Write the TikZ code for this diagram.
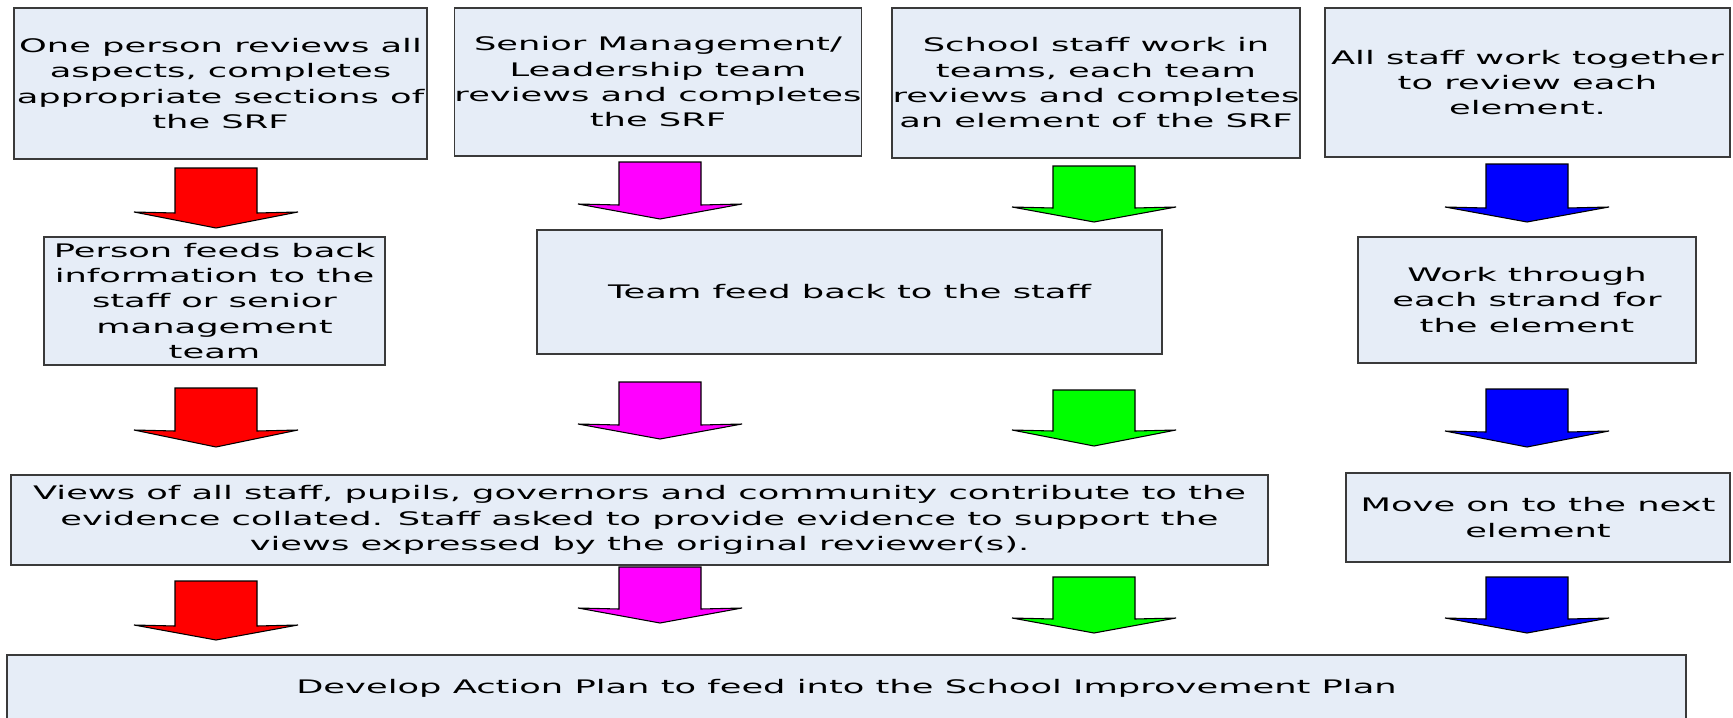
\documentclass[tikz,border=0pt]{standalone}
\usepackage{fontspec}
\setmainfont{DejaVu Sans}[FakeStretch=1.89]
\definecolor{boxfill}{HTML}{E6EDF7}
\definecolor{boxline}{HTML}{3A3A3A}
\definecolor{arrred}{RGB}{255,0,0}
\definecolor{arrmag}{RGB}{255,0,255}
\definecolor{arrgreen}{RGB}{0,255,0}
\definecolor{arrblue}{RGB}{0,0,255}
\newcommand{\blkarrow}[5]{%
  \draw[line width=0.8pt, black, fill=#5, line join=miter]
    (#1-41,#2) -- (#1+41,#2) -- (#1+41,#3) -- (#1+82,#3-1) -- (#1,#4)
    -- (#1-82,#3-1) -- (#1-41,#3) -- cycle;}
\tikzset{
  flowbox/.style 2 args={draw=boxline, line width=1pt, fill=boxfill, rectangle,
    inner sep=0pt, align=center, text=black,
    minimum width={#1*0.75pt}, minimum height={#2*0.75pt},
    font=\fontsize{14}{19}\selectfont},
}
\begin{document}
\begin{tikzpicture}[x=0.75pt,y=-0.75pt]
\useasboundingbox (0,0) rectangle (1733,717);
% row 1
\node[flowbox={413}{151}] (b1) at (220.5,83.5) {One person reviews all\\aspects, completes\\appropriate sections of\\the SRF};
\node[flowbox={400}{148}] (b2) at (658,82) {Senior Management/\\Leadership team\\reviews and completes\\the SRF};
\node[flowbox={408}{150}] (b3) at (1096,83) {School staff work in\\teams, each team\\reviews and completes\\an element of the SRF};
\node[flowbox={405}{149}] (b4) at (1527.5,82.5) {All staff work together\\to review each\\element.};
% row 2
\node[flowbox={341}{128}] (b5) at (214.5,301) {Person feeds back\\information to the\\staff or senior\\management\\team};
\node[flowbox={625}{124}] (b6) at (849.5,292) {Team feed back to the staff};
\node[flowbox={338}{126}] (b7) at (1527,300) {Work through\\each strand for\\the element};
% row 3
\node[flowbox={1257}{90}] (b8) at (639.5,520) {Views of all staff, pupils, governors and community contribute to the\\evidence collated. Staff asked to provide evidence to support the\\views expressed by the original reviewer(s).};
\node[flowbox={384}{89}] (b9) at (1538,517.5) {Move on to the next\\element};
% row 4
\node[flowbox={1679}{66}] (b10) at (846.5,688) {Develop Action Plan to feed into the School Improvement Plan};
% arrows row 1
\blkarrow{216}{168}{213}{228}{arrred}
\blkarrow{660}{162}{205}{219}{arrmag}
\blkarrow{1094}{166}{208}{222}{arrgreen}
\blkarrow{1527}{164}{208}{222}{arrblue}
% arrows row 2
\blkarrow{216}{388}{431}{447}{arrred}
\blkarrow{660}{382}{425}{439}{arrmag}
\blkarrow{1094}{390}{431}{446}{arrgreen}
\blkarrow{1527}{389}{432}{447}{arrblue}
% arrows row 3
\blkarrow{216}{581}{626}{640}{arrred}
\blkarrow{660}{567}{609}{623}{arrmag}
\blkarrow{1094}{577}{619}{633}{arrgreen}
\blkarrow{1527}{577}{619}{633}{arrblue}
\end{tikzpicture}
\end{document}
